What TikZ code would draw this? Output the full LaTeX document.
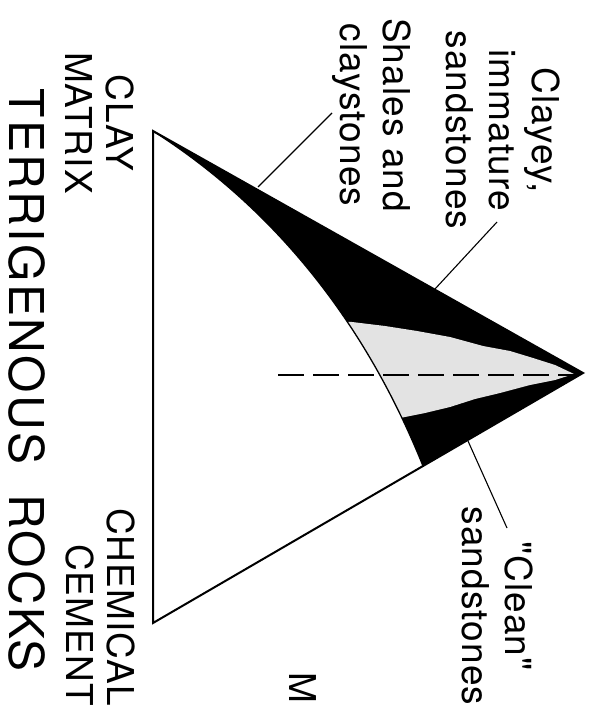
\documentclass[tikz,border=0pt]{standalone}
\usepackage{fontspec}
\setmainfont{TeX Gyre Heros}
\newfontfamily\labfont[LetterSpace=3]{TeX Gyre Heros}
\newfontfamily\titlefont[LetterSpace=5]{TeX Gyre Heros}
\begin{document}
\begin{tikzpicture}[x=1pt,y=-1pt,
  lbl/.style={rotate=-90, font=\labfont\fontsize{37}{43}\selectfont, align=center, inner sep=0pt},
  caplbl/.style={rotate=-90, font=\labfont\fontsize{37}{41}\selectfont, inner sep=0pt},
  title/.style={rotate=-90, font=\titlefont\fontsize{48}{52}\selectfont, inner sep=0pt},
  edge/.style={line width=2pt, line join=miter},
  leader/.style={line width=1.1pt},
  stipple/.style={fill=black!11},
  dashline/.style={line width=1.4pt, dash pattern=on 26pt off 9pt}]
\useasboundingbox (0,0) rectangle (588,708);
% vertices
\coordinate (A) at (153,131);
\coordinate (B) at (153,623);
\coordinate (C) at (583,373);
\coordinate (E) at (423,466);
% black field
\fill (A) -- (C) -- (E) .. controls (361,312) and (266,203) .. (A) -- cycle;
% stippled field
\begin{scope}
  \clip (A) -- (C) -- (E) .. controls (361,312) and (266,203) .. (A) -- cycle;
  \fill[stipple] (330,321) -- (352,322) -- (385,326) -- (417,331) -- (450,337) -- (483,346)
     -- (510,351) -- (533,358) -- (555,365) -- (574,374) -- (555,380) -- (530,385)
     -- (500,393) -- (475,399) -- (450,407) -- (425,413) -- (400,418) -- (380,420) -- cycle;
\end{scope}
% boundary curve
\draw[line width=1.3pt] (E) .. controls (361,312) and (266,203) .. (A);
% triangle
\draw[edge] (A) -- (B) -- (C) -- cycle;
% dashed line
\coordinate (D0) at (278,375);
\coordinate (D1) at (576,375);
\draw[dashline] (D0) -- (D1);
% labels
\node[lbl] (clayey) at (503,130) {Clayey,\\immature\\sandstones};
\node[lbl] (shales) at (372,115) {Shales and\\claystones};
\node[lbl] (clean) at (498,606) {"Clean"\\sandstones};
\node[caplbl, align=center] (clay) at (100,123) {CLAY\\MATRIX};
\node[caplbl, align=right, anchor=east] (chem) at (100,706) {CHEMICAL\\CEMENT};
\node[title] (terr) at (27,380) {TERRIGENOUS\hspace{30pt}ROCKS};
\node[caplbl] (m) at (303,688) {M};
% leaders
\coordinate (s0) at (258,187);
\coordinate (s1) at (332,113);
\coordinate (c0) at (435,289);
\coordinate (c1) at (497,222);
\coordinate (k0) at (468,441);
\coordinate (k1) at (507,528);
\draw[leader] (s0) -- (s1);
\draw[leader] (c0) -- (c1);
\draw[leader] (k0) -- (k1);
\end{tikzpicture}
\end{document}
